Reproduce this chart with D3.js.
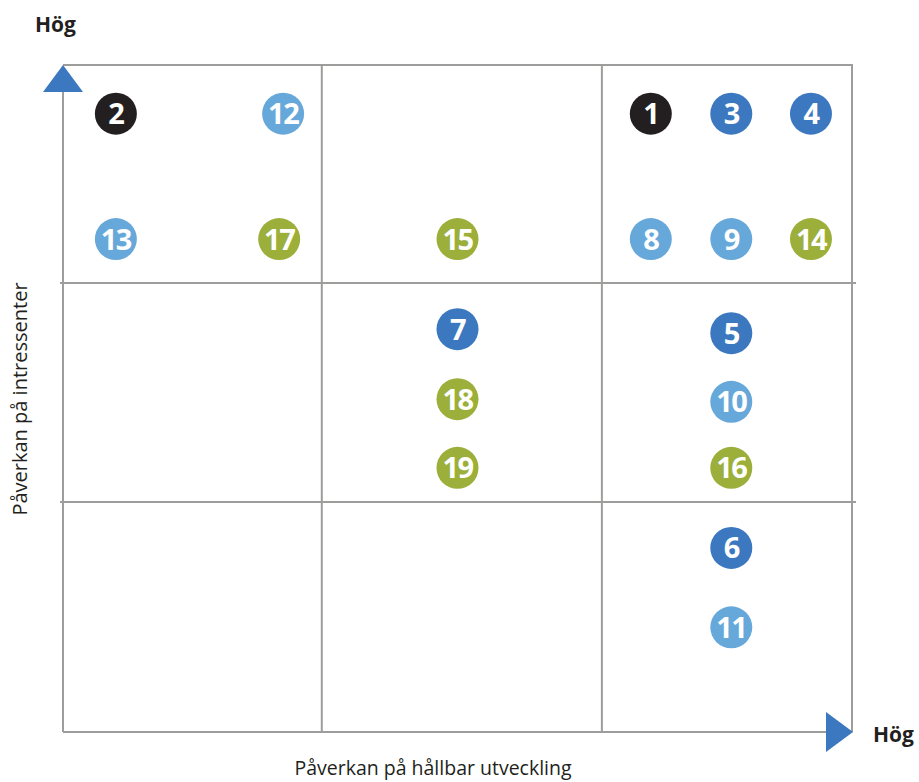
<!DOCTYPE html>
<html>
<head>
<meta charset="utf-8">
<script src="https://cdn.jsdelivr.net/npm/d3@7"></script>
<style>
  body { margin: 0; background: #fff; }
  text { font-family: "Open Sans", "Noto Sans", sans-serif; }
</style>
</head>
<body>
<div id="chart"></div>
<script>
// issue numbers and their position in the matrix (0-10 score on each axis)
const ids = [1, 2, 3, 4, 5, 6, 7, 8, 9, 10, 11, 12, 13, 14, 15, 16, 17, 18, 19];
const xScore = [7.45, 0.67, 8.47, 9.48, 8.47, 8.47, 5.0, 7.45, 8.47, 8.47, 8.47, 2.79, 0.67, 9.48, 5.0, 8.47, 2.74, 5.0, 5.0];
const yScore = [9.27, 9.27, 9.27, 9.27, 5.98, 2.76, 6.04, 7.39, 7.39, 4.95, 1.57, 9.27, 7.39, 7.39, 7.39, 3.96, 7.39, 4.99, 3.96];
const group = ['black', 'black', 'blue', 'blue', 'blue', 'blue', 'blue', 'light', 'light', 'light', 'light', 'light', 'light',
  'green', 'green', 'green', 'green', 'green', 'green'];
// grid boundaries between low / medium / high
const xBreaks = [3.28, 6.83];
const yBreaks = [3.45, 6.73];
const axisLabelX = 'Påverkan på hållbar utveckling';
const axisLabelY = 'Påverkan på intressenter';
const highLabel = 'Hög';

const colors = {black: '#231f20', blue: '#3b78bf', light: '#67a8db', green: '#9caf3a'};

const width = 919;
const height = 782;
const margin = {top: 65, right: 67, bottom: 50, left: 63};

const svg = d3.select('#chart')
    .append('svg')
    .attr('width', width)
    .attr('height', height);

const x = d3.scaleLinear()
    .domain([0, 10])
    .range([margin.left, width - margin.right]);
const y = d3.scaleLinear()
    .domain([0, 10])
    .range([height - margin.bottom, margin.top]);

const gridColor = '#9d9d9b';
const grid = svg.append('g')
    .attr('stroke', gridColor)
    .attr('stroke-width', 2)
    .attr('fill', 'none');

// outer frame (top and right)
grid.append('path')
    .attr('d', `M${x(0)},${y(10)}H${x(10)}V${y(0)}`);

// inner lines
grid.selectAll('.vline')
    .data(xBreaks)
    .join('line')
    .attr('x1', (d) => x(d))
    .attr('x2', (d) => x(d))
    .attr('y1', y(10))
    .attr('y2', y(0));
grid.selectAll('.hline')
    .data(yBreaks)
    .join('line')
    .attr('x1', x(0) - 3)
    .attr('x2', x(10) + 4)
    .attr('y1', (d) => y(d))
    .attr('y2', (d) => y(d));

// axes
grid.append('line')
    .attr('x1', x(0)).attr('x2', x(0))
    .attr('y1', y(0)).attr('y2', y(10) + 20);
grid.append('line')
    .attr('x1', x(0)).attr('x2', x(10) - 20)
    .attr('y1', y(0)).attr('y2', y(0));

// arrow heads
const arrowColor = '#3b78bf';
svg.append('path')
    .attr('fill', arrowColor)
    .attr('d', `M${x(0)},${y(10)}L${x(0) + 20},${y(10) + 27}L${x(0) - 20},${y(10) + 27}Z`);
svg.append('path')
    .attr('fill', arrowColor)
    .attr('d', `M${x(10) + 1},${y(0)}L${x(10) - 26},${y(0) - 20}L${x(10) - 26},${y(0) + 20}Z`);

// labels
svg.append('text')
    .attr('x', 35)
    .attr('y', 32)
    .attr('font-size', 21)
    .attr('font-weight', 700)
    .attr('fill', '#231f20')
    .text(highLabel);
svg.append('text')
    .attr('x', 873)
    .attr('y', 742)
    .attr('font-size', 21)
    .attr('font-weight', 700)
    .attr('fill', '#231f20')
    .text(highLabel);
svg.append('text')
    .attr('x', 433)
    .attr('y', 775)
    .attr('text-anchor', 'middle')
    .attr('font-size', 19.5)
    .attr('fill', '#231f20')
    .text(axisLabelX);
svg.append('text')
    .attr('transform', 'translate(27,399) rotate(-90)')
    .attr('text-anchor', 'middle')
    .attr('font-size', 20)
    .attr('fill', '#231f20')
    .text(axisLabelY);

// numbered markers
const points = ids.map((id, i) => ({id, x: xScore[i], y: yScore[i], g: group[i]}));
const marks = svg.append('g')
    .selectAll('g')
    .data(points)
    .join('g')
    .attr('transform', (d) => `translate(${x(d.x)},${y(d.y)})`);
marks.append('circle')
    .attr('r', 21)
    .attr('fill', (d) => colors[d.g]);
marks.append('text')
    .attr('text-anchor', 'middle')
    .attr('dy', '0.36em')
    .attr('font-size', 29)
    .attr('font-weight', 700)
    .attr('letter-spacing', -1.5)
    .attr('fill', '#fff')
    .text((d) => d.id);
</script>
</body>
</html>
